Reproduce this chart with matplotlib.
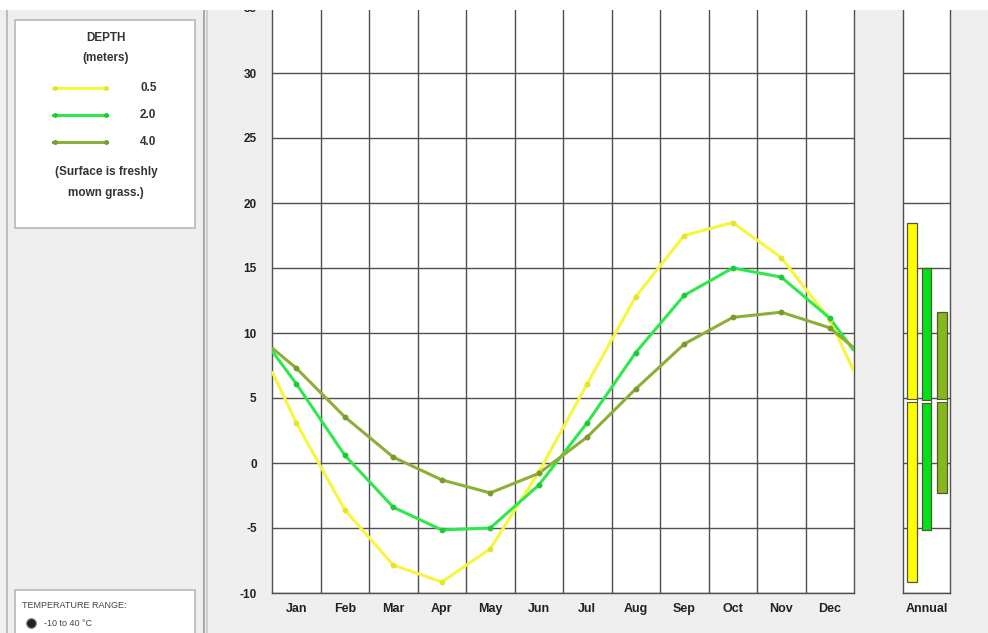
import matplotlib
matplotlib.use("Agg")
import matplotlib.pyplot as plt
from matplotlib.patches import Rectangle
from matplotlib.lines import Line2D
import numpy as np

plt.rcParams['font.family'] = ['Liberation Sans Narrow', 'Liberation Sans', 'DejaVu Sans']

months = ["Jan", "Feb", "Mar", "Apr", "May", "Jun",
          "Jul", "Aug", "Sep", "Oct", "Nov", "Dec"]
depths = ["0.5", "2.0", "4.0"]

# Monthly mean soil temperature (deg C) at each depth
temp_05 = [3.1, -3.6, -7.85, -9.15, -6.6, -0.7, 6.1, 12.8, 17.5, 18.5, 15.8, 11.0]
temp_20 = [6.1, 0.6, -3.4, -5.15, -5.0, -1.7, 3.1, 8.5, 12.9, 15.0, 14.3, 11.15]
temp_40 = [7.3, 3.55, 0.45, -1.3, -2.3, -0.8, 2.0, 5.7, 9.15, 11.2, 11.6, 10.4]

y_ticks = [-10, -5, 0, 5, 10, 15, 20, 25, 30, 35]

line_colors = ["#f6f63c", "#2ee84c", "#8daf35"]
marker_colors = ["#e4e430", "#22c83c", "#7a9a2c"]
bar_colors = ["#ffff00", "#00e31a", "#86b81e"]
grid_color = "#505050"
text_color = "#222222"

W, H = 988, 633
fig = plt.figure(figsize=(W / 100, H / 100), dpi=100)
fig.patch.set_facecolor("#efefef")


def fx(px):
    return px / W


def fy(py):
    return 1 - py / H


# ---- main monthly chart ----
ax_l, ax_r, ax_t, ax_b = 272, 854, 8, 593
ax = fig.add_axes([fx(ax_l), fy(ax_b), fx(ax_r - ax_l), fy(ax_t) - fy(ax_b)])
ax.set_facecolor("white")
ax.set_xlim(0, 12)
ax.set_ylim(-10, 35)
for v in y_ticks:
    ax.axhline(v, color=grid_color, lw=1.0, zorder=1)
for m in range(1, 12):
    ax.axvline(m, color=grid_color, lw=1.0, zorder=1)
for s in ax.spines.values():
    s.set_color(grid_color)
    s.set_linewidth(1.0)
ax.set_yticks(y_ticks)
ax.set_yticklabels([str(v) for v in y_ticks], fontsize=8.5, fontweight="bold", color=text_color)
ax.set_xticks(np.arange(12) + 0.5)
ax.set_xticklabels(months, fontsize=9, fontweight="bold", color=text_color)
ax.tick_params(axis="y", length=0, pad=11)
ax.tick_params(axis="x", length=0, pad=7)

series = [temp_05, temp_20, temp_40]
for vals, lc, mc in zip(series, line_colors, marker_colors):
    vals = np.asarray(vals, dtype=float)
    # the year wraps around: the curve meets the frame halfway between Dec and Jan
    edge = (vals[0] + vals[-1]) / 2
    xs = np.concatenate([[0], np.arange(12) + 0.5, [12]])
    ys = np.concatenate([[edge], vals, [edge]])
    ax.plot(xs, ys, color=lc, lw=2.2, zorder=3, solid_capstyle="butt")
    ax.plot(np.arange(12) + 0.5, vals, "o", ms=3.2, color=mc, zorder=4)

# ---- annual range panel ----
an_l, an_r = 903, 950
ax2 = fig.add_axes([fx(an_l), fy(ax_b), fx(an_r - an_l), fy(ax_t) - fy(ax_b)])
ax2.set_facecolor("white")
ax2.set_xlim(0, 1)
ax2.set_ylim(-10, 35)
for v in y_ticks:
    ax2.axhline(v, color=grid_color, lw=1.0, zorder=1)
for s in ax2.spines.values():
    s.set_color(grid_color)
    s.set_linewidth(1.0)
ax2.set_yticks([])
ax2.set_xticks([0.5])
ax2.set_xticklabels(["Annual"], fontsize=9, fontweight="bold", color=text_color)
ax2.tick_params(axis="x", length=0, pad=7)

bar_x = [0.19, 0.50, 0.83]
bar_w = 0.21
for vals, bx, bc in zip(series, bar_x, bar_colors):
    lo, hi, mean = min(vals), max(vals), float(np.mean(vals))
    ax2.bar(bx, hi - lo, bottom=lo, width=bar_w, color=bc,
            edgecolor="#555533", linewidth=0.9, zorder=3)
    ax2.plot([bx - bar_w / 2, bx + bar_w / 2], [mean, mean], color="#555533",
             lw=3.0, zorder=4, solid_capstyle="butt")
    ax2.plot([bx - bar_w / 2, bx + bar_w / 2], [mean, mean], color="white",
             lw=1.4, zorder=5, solid_capstyle="butt")

# ---- left side panel ----
for px, col in [(7, "#b4b4b4"), (204, "#9a9a9a"), (207, "#c8c8c8")]:
    fig.add_artist(Line2D([fx(px), fx(px)], [0, fy(10)], color=col, lw=1.2))

fig.add_artist(Rectangle((fx(15), fy(228)), fx(180), fy(20) - fy(228),
                         facecolor="white", edgecolor="#b8b8b8", lw=1.2))
legend_font = dict(fontsize=8.5, fontweight="bold", color="#333333")
fig.text(fx(106), fy(38), "DEPTH", ha="center", va="center", **legend_font)
fig.text(fx(106), fy(58), "(meters)", ha="center", va="center", **legend_font)
for i, (lab, lc, mc) in enumerate(zip(depths, line_colors, marker_colors)):
    yy = fy(88 + 27 * i)
    fig.add_artist(Line2D([fx(53), fx(107)], [yy, yy], color=lc, lw=2.2))
    fig.add_artist(Line2D([fx(55), fx(106)], [yy, yy], marker="o", ms=2.5,
                          ls="none", color=mc))
    fig.text(fx(140), yy, lab, ha="left", va="center", **legend_font)
fig.text(fx(106), fy(172), "(Surface is freshly", ha="center", va="center", **legend_font)
fig.text(fx(106), fy(193), "mown grass.)", ha="center", va="center", **legend_font)

fig.add_artist(Rectangle((fx(15), fy(640)), fx(180), fy(590) - fy(640),
                         facecolor="white", edgecolor="#b8b8b8", lw=1.2))
fig.text(fx(22), fy(605), "TEMPERATURE RANGE:", ha="left", va="center",
         fontsize=6.5, color="#444444")
fig.add_artist(Line2D([fx(31)], [fy(623)], marker="o", ms=7, ls="none",
                      markerfacecolor="#222222", markeredgecolor="#888888",
                      markeredgewidth=0.8))
fig.text(fx(44), fy(624), "-10 to 40 °C", ha="left", va="center",
         fontsize=6.5, color="#444444")

# white strip along the top edge
fig.add_artist(Rectangle((0, fy(10)), 1, 1 - fy(10), facecolor="white",
                         edgecolor="none", zorder=20))

fig.savefig("out.png", dpi=100, facecolor=fig.get_facecolor())
